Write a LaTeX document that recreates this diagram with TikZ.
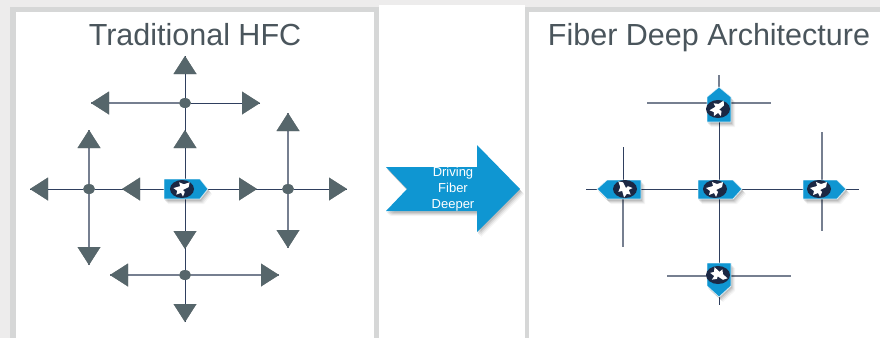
\documentclass[tikz,border=0pt]{standalone}
\usepackage{fontspec}
\setmainfont{Liberation Sans}
\usetikzlibrary{calc,arrows.meta}
\definecolor{bgc}{HTML}{EDECEC}
\definecolor{edgec}{HTML}{D6D7D7}
\definecolor{titlec}{HTML}{4A555C}
\definecolor{headc}{HTML}{56666B}
\definecolor{navy}{HTML}{2F3F5E}
\definecolor{greyline}{HTML}{767F90}
\definecolor{blue}{HTML}{0F96D2}
\definecolor{disc}{HTML}{1B2844}
\tikzset{
  title/.style={font=\fontsize{30.5}{31}\selectfont,text=titlec,anchor=base,inner sep=0},
  conn/.style={draw=navy,line width=.9pt},
  connb/.style={draw=greyline,line width=1.1pt},
  junction/.style={ellipse,fill=headc,inner sep=0,minimum width=12pt,minimum height=10pt},
  panel/.style={fill=edgec,draw=none},
  blank/.style={fill=white,draw=none},
  hubfill/.style={fill=blue,draw=white,draw opacity=.75,line width=.8pt},
}
\usetikzlibrary{shapes.geometric}
% arrow head from a named start to a named tip
\newcommand{\headtip}[2]{%
  \foreach \dx/\dy/\op in {3.5/4.5/.05,3/4/.07,2.5/3.5/.09,2/3/.10,1.2/2/.10}{%
    \fill[black,opacity=\op,shift={(\dx,\dy)}] (#2)
      -- ($(#2)!18pt!(#1)!11.5pt!90:(#2)$)
      -- ($(#2)!18pt!(#1)!11.5pt!-90:(#2)$) -- cycle;}%
  \fill[headc] (#2)
      -- ($(#2)!18pt!(#1)!11.5pt!90:(#2)$)
      -- ($(#2)!18pt!(#1)!11.5pt!-90:(#2)$) -- cycle;}
% soft shadow of a closed path
\newcommand{\softshadow}[1]{%
  \foreach \dx/\dy/\op in {4/5/.04,3/4/.06,2/3/.08,1/2/.10}{%
    \fill[black,opacity=\op,shift={(\dx,\dy)}] #1;}}
% disc with the white bird mark, given centre and turn
\newcommand{\birdmark}[3]{%
  \fill[disc] (#1) ellipse (12 and 9);
  \begin{scope}[shift={(#1)},rotate=#2,scale=#3]
    \fill[white] (8,-7) -- (2,-5) -- (-3,-7) -- (-2,-3) -- (-9,-1) -- (-5,2) -- (-6,6)
      -- (-1,4) -- (1,8) -- (3,3) -- (1,1) -- (7,-2) -- cycle;
  \end{scope}}
\begin{document}
\begin{tikzpicture}[x=1pt,y=-1pt]
\useasboundingbox (0,0) rectangle (880,338);
\fill[bgc] (0,0) rectangle (880,338);
% panels
\fill[white] (379,5) rectangle (525,338);
\fill[panel] (10,7) rectangle (379,338);
\fill[blank] (16,12) rectangle (374,338);
\fill[panel] (525,7) rectangle (880,338);
\fill[blank] (529,12) rectangle (880,338);
\node[title] (t1) at (195,45) {Traditional HFC};
\node[title] (t2) at (709,45) {Fiber Deep Architecture};

% ---------- left diagram
\node[junction] (jt) at (185,103) {};
\node[junction] (jl) at (89,189) {};
\node[junction] (jr) at (288,189) {};
\node[junction] (jb) at (185,275) {};
\coordinate (hub) at (185,189);
\foreach \n/\x/\y in {a1/185/56,a2/91/103,a3/260/103,a4/185/130,a5/122/189,a6/257/189,a7/185/249,
  a8/30/189,a9/89/130,a10/89/265,a11/347/189,a12/288/113,a13/288/248,a14/110/275,a15/279/275,a16/185/322}
  {\coordinate (\n) at (\x,\y);}
\draw[conn] (hub) -- (jt);
\draw[conn] (hub) -- (jl);
\draw[conn] (hub) -- (jr);
\draw[conn] (hub) -- (jb);
\draw[conn] (jt) -- (a1);
\draw[connb] (jt) -- (a2);
\draw[conn] (jt) -- (a3);
\draw[conn] (jl) -- (a8);
\draw[connb] (jl) -- (a9);
\draw[connb] (jl) -- (a10);
\draw[conn] (jr) -- (a11);
\draw[connb] (jr) -- (a12);
\draw[connb] (jr) -- (a13);
\draw[connb] (jb) -- (a14);
\draw[connb] (jb) -- (a15);
\draw[conn] (jb) -- (a16);
\headtip{jt}{a1}\headtip{jt}{a2}\headtip{jt}{a3}
\headtip{hub}{a4}\headtip{hub}{a5}\headtip{hub}{a6}\headtip{hub}{a7}
\headtip{jl}{a8}\headtip{jl}{a9}\headtip{jl}{a10}
\headtip{jr}{a11}\headtip{jr}{a12}\headtip{jr}{a13}
\headtip{jb}{a14}\headtip{jb}{a15}\headtip{jb}{a16}
\softshadow{(164,179) -- (200,179) -- (208,189) -- (200,199) -- (164,199) -- cycle}
\path[hubfill] (164,179) -- (200,179) -- (208,189) -- (200,199) -- (164,199) -- cycle;
\birdmark{182,189}{0}{.95}

% ---------- blue arrow
\softshadow{(386,167) -- (477,167) -- (477,145) -- (520,189) -- (477,232) -- (477,211) -- (386,211) -- (407,189) -- cycle}
\fill[blue] (386,167) -- (477,167) -- (477,145) -- (520,189) -- (477,232) -- (477,211) -- (386,211) -- (407,189) -- cycle;
\node[font=\fontsize{13}{16}\selectfont,text=white,align=center,inner sep=0] (drv) at (453,189) {Driving\\Fiber\\Deeper};

% ---------- right diagram
\coordinate (hc) at (719,189);
\coordinate (ht) at (719,103);
\coordinate (hb) at (719,276);
\coordinate (hl) at (623,189);
\coordinate (hr) at (822,189);
\foreach \n/\x/\y in {e1/719/75,e2/647/103,e3/771/103,e4/719/305,e5/667/276,e6/791/276,
  e7/623/147,e8/623/247,e9/586/189,e10/822/132,e11/822/231,e12/859/189}
  {\coordinate (\n) at (\x,\y);}
\draw[conn] (hc) -- (ht);
\draw[conn] (hc) -- (hb);
\draw[conn] (hc) -- (hl);
\draw[conn] (hc) -- (hr);
\draw[connb] (ht) -- (e1);
\draw[connb] (ht) -- (e2);
\draw[connb] (ht) -- (e3);
\draw[conn] (hb) -- (e4);
\draw[connb] (hb) -- (e5);
\draw[connb] (hb) -- (e6);
\draw[conn] (hl) -- (e7);
\draw[connb] (hl) -- (e8);
\draw[conn] (hl) -- (e9);
\draw[connb] (hr) -- (e10);
\draw[connb] (hr) -- (e11);
\draw[conn] (hr) -- (e12);
% centre
\softshadow{(698,180) -- (733,180) -- (742,189) -- (733,199) -- (698,199) -- cycle}
\path[hubfill] (698,180) -- (733,180) -- (742,189) -- (733,199) -- (698,199) -- cycle;
\birdmark{715,189}{0}{1}
% right
\softshadow{(803,180) -- (837,180) -- (846,189) -- (837,199) -- (803,199) -- cycle}
\path[hubfill] (803,180) -- (837,180) -- (846,189) -- (837,199) -- (803,199) -- cycle;
\birdmark{819,189}{0}{1}
% left
\softshadow{(641,180) -- (607,180) -- (597,189) -- (607,199) -- (641,199) -- cycle}
\path[hubfill] (641,180) -- (607,180) -- (597,189) -- (607,199) -- (641,199) -- cycle;
\birdmark{625,189}{90}{.95}
% top
\softshadow{(707,122) -- (707,97) -- (719,87) -- (731,97) -- (731,122) -- cycle}
\path[hubfill] (707,122) -- (707,97) -- (719,87) -- (731,97) -- (731,122) -- cycle;
\birdmark{718,109}{15}{.95}
% bottom
\softshadow{(707,263) -- (707,286) -- (719,297) -- (731,286) -- (731,263) -- cycle}
\path[hubfill] (707,263) -- (707,286) -- (719,297) -- (731,286) -- (731,263) -- cycle;
\birdmark{718,275}{-60}{.95}
\end{tikzpicture}
\end{document}
